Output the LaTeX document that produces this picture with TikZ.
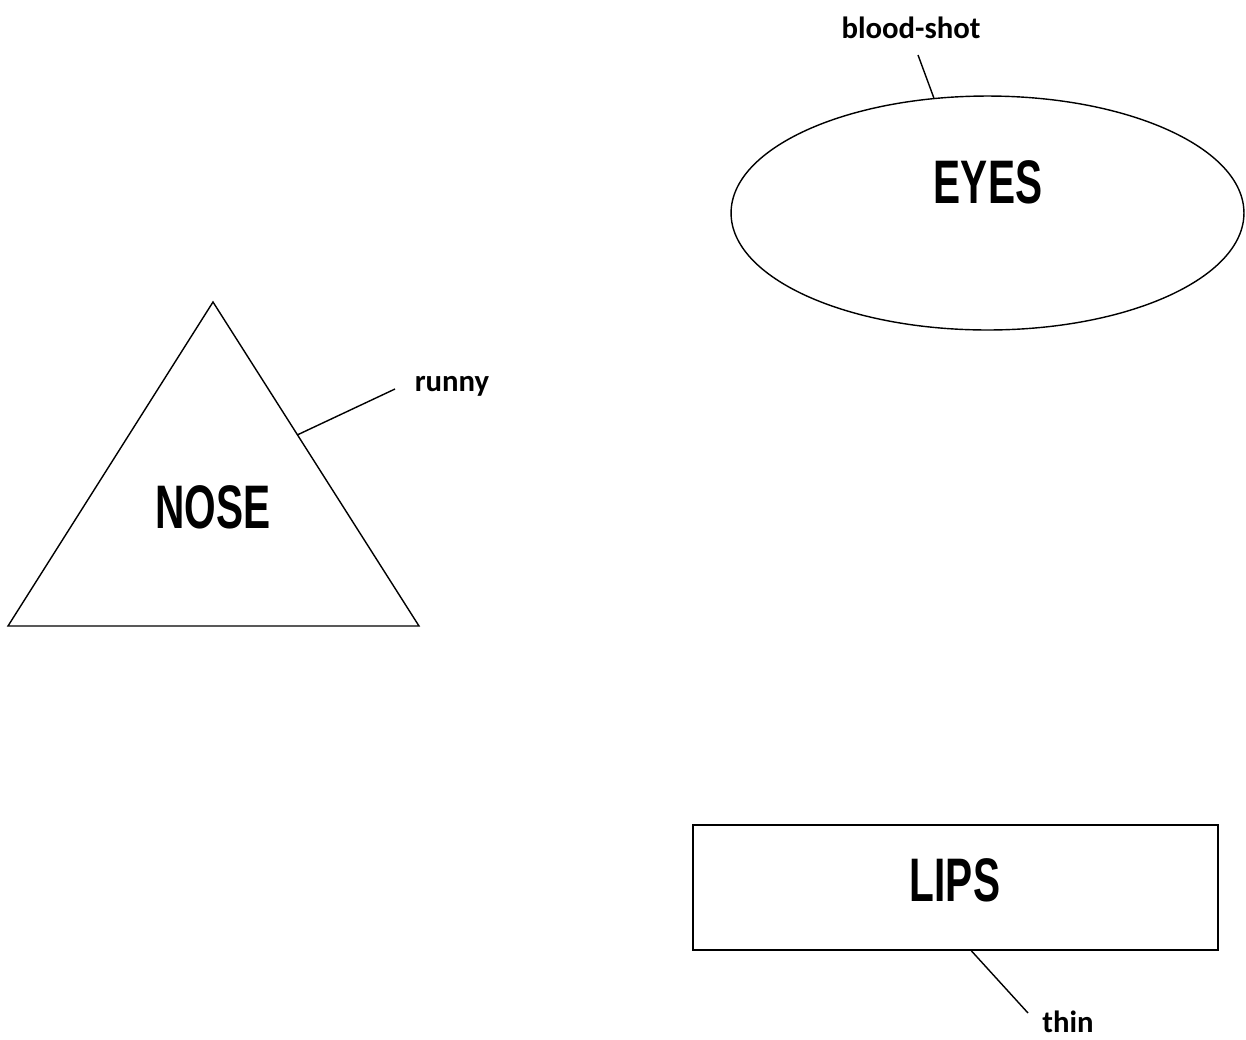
\documentclass[tikz,border=0pt]{standalone}
\usepackage{fontspec}
\setmainfont{Carlito}
\newfontfamily\partfont[FakeStretch=0.66]{Liberation Sans}
\usepackage{tikz}
\usetikzlibrary{shapes.geometric,calc}

\begin{document}
\begin{tikzpicture}[x=0.02cm, y=-0.02cm, line width=0.8pt,
  part/.style={font=\partfont\bfseries\fontsize{35}{35}\selectfont},
  note/.style={font=\bfseries\fontsize{17.5}{18}\selectfont, inner sep=0pt},
  outline/.style={draw, inner sep=0pt}]
  \useasboundingbox (0,0) rectangle (1246,1039);

  \node[outline, ellipse, minimum width=10.26cm, minimum height=4.68cm] (eyes) at (987.5,213) {};
  \node[part] (eyestext) at (988,182) {EYES};

  \coordinate (apex) at (213,302);
  \coordinate (bl) at (8,626);
  \coordinate (br) at (419,626);
  \draw (apex) -- (br) -- (bl) -- cycle;
  \node[part] (nosetext) at (213,507) {NOSE};

  \node[outline, rectangle, minimum width=10.5cm, minimum height=2.5cm] (lips) at (955.5,887.5) {};
  \node[part] (lipstext) at (955,880) {LIPS};

  \node[note] (bloodshot) at (911,28) {blood-shot};
  \node[note] (runny) at (452,386) {runny};
  \node[note] (thin) at (1068,1022) {thin};

  \coordinate (bsend) at (918,55);
  \coordinate (runnyend) at (395,389);
  \coordinate (thinend) at (1028,1013);
  \coordinate (noseside) at ($(apex)!0.41!(br)$);

  \draw (eyes.115) -- (bsend);
  \draw (noseside) -- (runnyend);
  \draw (lips.-76) -- (thinend);
\end{tikzpicture}
\end{document}
